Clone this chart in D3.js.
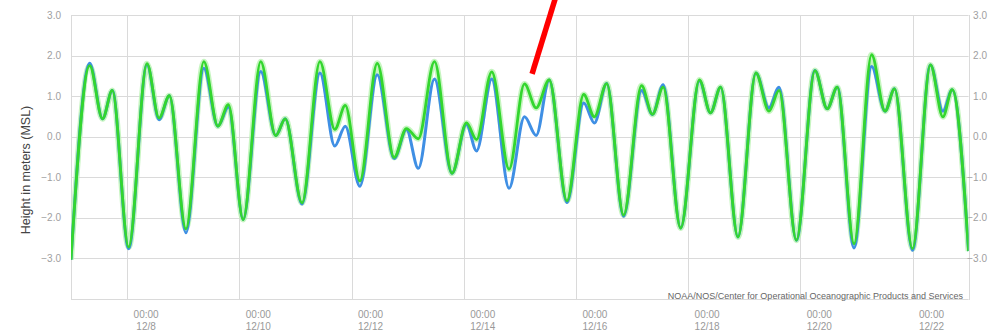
<!DOCTYPE html>
<html>
<head>
<meta charset="utf-8">
<script src="https://cdn.jsdelivr.net/npm/d3@7/dist/d3.min.js"></script>
<style>
  html, body { margin: 0; padding: 0; background: #fff; }
  svg { display: block; font-family: "Liberation Sans", Arial, sans-serif; }
</style>
</head>
<body>
<svg id="chart" width="998" height="335"></svg>
<script>
// ---- data (times of successive high / low waters, heights in m MSL) ----
const times = [
  "2019-12-07T00:00","2019-12-07T08:00","2019-12-07T13:30","2019-12-07T17:40",
  "2019-12-08T00:40","2019-12-08T08:30","2019-12-08T13:40","2019-12-08T18:05",
  "2019-12-09T01:10","2019-12-09T08:50","2019-12-09T14:50","2019-12-09T19:20",
  "2019-12-10T01:40","2019-12-10T09:10","2019-12-10T15:35","2019-12-10T19:40",
  "2019-12-11T02:50","2019-12-11T10:30","2019-12-11T16:50","2019-12-11T21:20",
  "2019-12-12T03:35","2019-12-12T11:00","2019-12-12T18:15","2019-12-12T23:30",
  "2019-12-13T04:35","2019-12-13T11:30","2019-12-13T19:00","2019-12-14T01:10",
  "2019-12-14T05:30","2019-12-14T12:00","2019-12-14T19:25","2019-12-15T02:00",
  "2019-12-15T07:00","2019-12-15T12:35","2019-12-15T20:10","2019-12-16T03:20",
  "2019-12-16T07:55","2019-12-16T13:10","2019-12-16T20:25","2019-12-17T04:05",
  "2019-12-17T08:45","2019-12-17T13:20","2019-12-17T20:50","2019-12-18T04:50",
  "2019-12-18T09:35","2019-12-18T13:55","2019-12-18T21:20","2019-12-19T05:00",
  "2019-12-19T10:35","2019-12-19T14:55","2019-12-19T22:20","2019-12-20T06:15",
  "2019-12-20T11:30","2019-12-20T15:50","2019-12-20T23:00","2019-12-21T06:30",
  "2019-12-21T12:15","2019-12-21T16:20","2019-12-22T00:00","2019-12-22T07:40",
  "2019-12-22T13:00","2019-12-22T17:00","2019-12-23T00:00"
];
// blue series
const predicted = [
  -3.03, 1.81, 0.44, 1.14,
  -2.76, 1.78, 0.42, 1.01,
  -2.37, 1.69, 0.26, 0.73,
  -2.04, 1.61, 0.03, 0.44,
  -1.66, 1.57, -0.23, 0.26,
  -1.22, 1.53, -0.54, 0.18,
  -0.78, 1.42, -0.90, 0.30,
  -0.35, 1.42, -1.27, 0.49,
  0.03, 1.40, -1.62, 0.83,
  0.34, 1.31, -1.96, 1.14,
  0.55, 1.28, -2.25, 1.38,
  0.59, 1.22, -2.47, 1.57,
  0.71, 1.22, -2.55, 1.63,
  0.69, 1.22, -2.74, 1.73,
  0.63, 1.18, -2.80, 1.77,
  0.63, 1.16, -2.82
];
// green series
const verified = [
  -3.03, 1.75, 0.44, 1.14,
  -2.72, 1.80, 0.46, 1.01,
  -2.27, 1.85, 0.26, 0.79,
  -2.04, 1.85, 0.03, 0.44,
  -1.63, 1.85, 0.18, 0.77,
  -1.09, 1.81, -0.51, 0.20,
  -0.05, 1.85, -0.90, 0.34,
  -0.07, 1.60, -0.80, 1.30,
  0.71, 1.40, -1.58, 1.04,
  0.49, 1.31, -1.93, 1.26,
  0.55, 1.22, -2.25, 1.40,
  0.59, 1.22, -2.47, 1.57,
  0.63, 1.14, -2.55, 1.63,
  0.69, 1.22, -2.64, 2.02,
  0.63, 1.18, -2.76, 1.77,
  0.49, 1.16, -2.82
];
const yTicks = [-3, -2, -1, 0, 1, 2, 3];
const xTickDates = ["2019-12-08","2019-12-10","2019-12-12","2019-12-14",
                    "2019-12-16","2019-12-18","2019-12-20","2019-12-22"];
const xDomain = ["2019-12-07T00:00", "2019-12-23T00:00"];
const yDomain = [-4, 3];
const yTitle = "Height in meters (MSL)";
const credit = "NOAA/NOS/Center for Operational Oceanographic Products and Services";
// annotation arrow (red line) in data coordinates: [time, height]
const arrowFrom = ["2019-12-15T15:40", 3.5];
const arrowTo = ["2019-12-15T05:15", 1.55];

// ---- drawing ----
const parse = d3.isoParse;
const svg = d3.select("#chart");
const pLeft = 71, pRight = 968.6, pTop = 15, pBottom = 299;

const x = d3.scaleTime().domain(xDomain.map(parse)).range([pLeft, pRight]);
const y = d3.scaleLinear().domain(yDomain).range([pBottom, pTop]);

const gridColor = "#dadada";

// horizontal grid
svg.append("g").selectAll("line").data(yTicks.concat([-4])).join("line")
  .attr("x1", pLeft).attr("x2", pRight)
  .attr("y1", d => Math.round(y(d)) + 0.5).attr("y2", d => Math.round(y(d)) + 0.5)
  .attr("stroke", gridColor).attr("stroke-width", 1);

// vertical grid
const xTicks = xTickDates.map(parse);
svg.append("g").selectAll("line").data(xTicks).join("line")
  .attr("x1", d => Math.round(x(d)) + 0.5).attr("x2", d => Math.round(x(d)) + 0.5)
  .attr("y1", pTop).attr("y2", pBottom + 1)
  .attr("stroke", gridColor).attr("stroke-width", 1);

// plot borders (left/right)
[pLeft, pRight].forEach(px => {
  svg.append("line")
    .attr("x1", Math.round(px) + 0.5).attr("x2", Math.round(px) + 0.5)
    .attr("y1", pTop).attr("y2", pBottom + 1)
    .attr("stroke", gridColor).attr("stroke-width", 1);
});

// y axis labels, left and right
const fmtY = d3.format(".1f");
svg.append("g").selectAll("text").data(yTicks).join("text")
  .attr("x", 61).attr("y", d => y(d))
  .attr("dy", "0.35em").attr("text-anchor", "end")
  .attr("font-size", 10).attr("fill", "#a0a0a0")
  .text(d => fmtY(d));
svg.append("g").selectAll("text").data(yTicks).join("text")
  .attr("x", 987).attr("y", d => y(d))
  .attr("dy", "0.35em").attr("text-anchor", "end")
  .attr("font-size", 10).attr("fill", "#a0a0a0")
  .text(d => fmtY(d));

// y title
svg.append("text")
  .attr("transform", `translate(30,${(pTop + pBottom) / 2 + 13}) rotate(-90)`)
  .attr("text-anchor", "middle")
  .attr("font-size", 12.5).attr("fill", "#444")
  .text(yTitle);

// x labels
const fmtTime = d3.timeFormat("%H:%M");
const fmtDate = d => (d.getMonth() + 1) + "/" + d.getDate();
const xl = svg.append("g").selectAll("g").data(xTicks).join("g")
  .attr("transform", d => `translate(${x(d) + 19},0)`);
xl.append("text").attr("y", 318).attr("text-anchor", "middle")
  .attr("font-size", 10).attr("fill", "#999").text(fmtTime);
xl.append("text").attr("y", 330).attr("text-anchor", "middle")
  .attr("font-size", 10).attr("fill", "#999").text(fmtDate);

// credit
svg.append("text").attr("x", 963).attr("y", 299)
  .attr("text-anchor", "end").attr("font-size", 9).attr("fill", "#666")
  .text(credit);

// lines
svg.append("clipPath").attr("id", "clip").append("rect")
  .attr("x", pLeft).attr("y", pTop - 10).attr("width", pRight - pLeft).attr("height", pBottom - pTop + 10);

const pts = arr => times.map((t, i) => [parse(t), arr[i]]);
const line = d3.line().x(d => x(d[0])).y(d => y(d[1])).curve(d3.curveMonotoneX);

const g = svg.append("g").attr("clip-path", "url(#clip)");
g.append("path").attr("d", line(pts(verified)))
  .attr("fill", "none").attr("stroke", "#b8f2b0").attr("stroke-width", 6)
  .attr("stroke-linejoin", "round").attr("opacity", 0.8);
g.append("path").attr("d", line(pts(predicted)))
  .attr("fill", "none").attr("stroke", "#3f8fe4").attr("stroke-width", 3)
  .attr("stroke-linejoin", "round");
g.append("path").attr("d", line(pts(verified)))
  .attr("fill", "none").attr("stroke", "#33d62e").attr("stroke-width", 2.8)
  .attr("stroke-linejoin", "round");

// red annotation
svg.append("line")
  .attr("x1", x(parse(arrowFrom[0]))).attr("y1", y(arrowFrom[1]))
  .attr("x2", x(parse(arrowTo[0]))).attr("y2", y(arrowTo[1]))
  .attr("stroke", "#ff0000").attr("stroke-width", 5.5);
</script>
</body>
</html>
